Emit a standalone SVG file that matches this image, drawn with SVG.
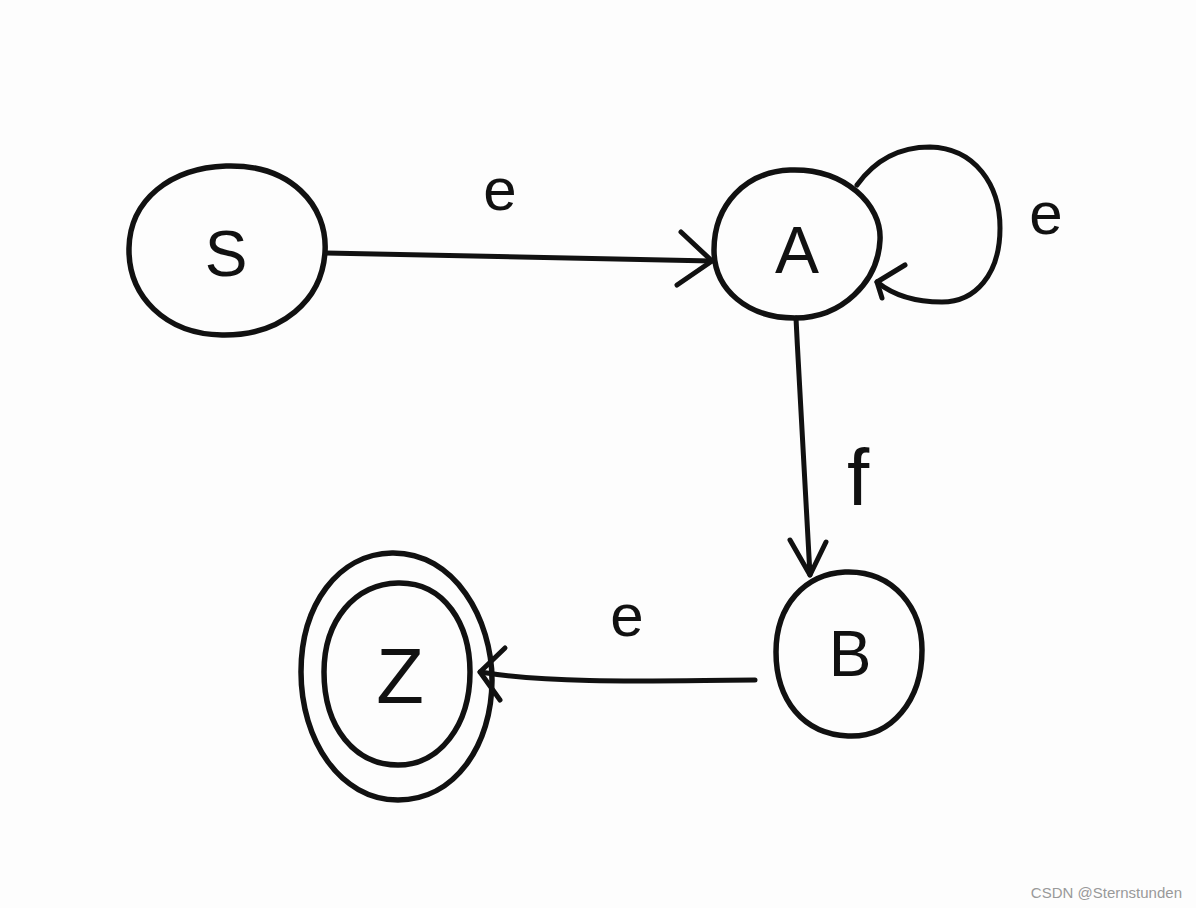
<svg xmlns="http://www.w3.org/2000/svg" width="1196" height="908" viewBox="0 0 1196 908">
<style>
.n{fill:none;stroke:#111;stroke-width:5.5;stroke-linecap:round;stroke-linejoin:round}
.c{fill:none;stroke:#111;stroke-width:5;stroke-linecap:round;stroke-linejoin:round}
.t{font-family:"Liberation Sans",Arial,sans-serif;fill:#111;text-anchor:middle}
</style>
<rect width="1196" height="908" fill="#fdfdfd"/>
<g id="node-S">
<path class="n" d="M226 166 C290 164 328 205 325 252 C322 300 282 336 222 335 C165 334 128 296 129 248 C130 200 170 168 226 166 Z"/>
<text class="t" x="226" y="276" font-size="64">S</text>
</g>
<g id="node-A">
<path class="n" d="M790 170 C845 168 882 205 880 240 C878 282 842 318 795 318 C748 318 714 290 714 250 C714 205 745 172 790 170 Z"/>
<text class="t" x="797" y="273" font-size="66">A</text>
</g>
<g id="node-B">
<path class="n" d="M845 572 C895 570 922 610 922 650 C922 700 892 738 848 736 C803 734 776 700 776 652 C776 605 805 574 845 572 Z"/>
<text class="t" x="850" y="676" font-size="64">B</text>
</g>
<g id="node-Z">
<path class="n" d="M392 553 C455 552 492 620 492 680 C492 745 455 800 398 800 C340 800 301 740 301 672 C301 605 338 554 392 553 Z"/>
<path class="n" d="M398 583 C445 582 470 625 470 672 C470 725 440 765 398 765 C355 765 324 728 324 672 C324 620 355 584 398 583 Z"/>
<text class="t" x="400" y="703" font-size="78">Z</text>
</g>
<g id="connectors">
<path class="c" d="M326 253 C450 256 600 258 712 261"/>
<path class="c" d="M681 232 L712 261 L677 285"/>
<path class="c" d="M857 185 C875 160 900 147 930 147 C975 148 1000 185 1000 228 C1000 275 975 302 942 302 C915 302 893 295 877 282"/>
<path class="c" d="M905 265 L877 282 L882 298"/>
<path class="c" d="M796 318 C800 400 805 480 810 575"/>
<path class="c" d="M790 540 L810 575 L826 542"/>
<path class="c" d="M755 680 C680 680 560 685 480 672"/>
<path class="c" d="M505 648 L480 672 L500 700"/>
</g>
<g id="labels">
<text class="t" x="500" y="210" font-size="60">e</text>
<text class="t" x="1046" y="234" font-size="60">e</text>
<text class="t" x="858" y="505" font-size="80">f</text>
<text class="t" x="627" y="636" font-size="60">e</text>
</g>
<text x="1182" y="898" font-family="Liberation Sans,Arial,sans-serif" font-size="15" fill="#999" text-anchor="end">CSDN @Sternstunden</text>
</svg>
